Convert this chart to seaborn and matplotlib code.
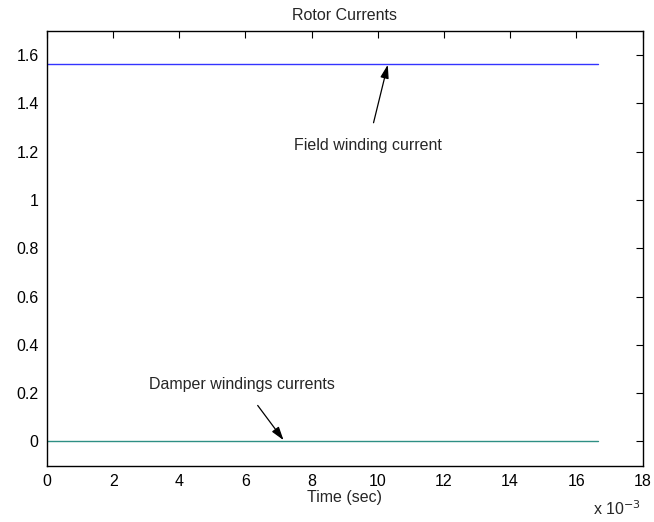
import matplotlib
matplotlib.use("Agg")
import matplotlib.pyplot as plt
import seaborn as sns
import pandas as pd
from matplotlib.ticker import FuncFormatter

# Data (time in seconds)
time_s = [0.0, 0.016667]
field_current = [1.564, 1.564]
damper_current = [0.0, 0.0]

x_ticks_ms = [0, 2, 4, 6, 8, 10, 12, 14, 16, 18]
y_ticks = [0, 0.2, 0.4, 0.6, 0.8, 1.0, 1.2, 1.4, 1.6]

df = pd.DataFrame({"time": time_s + time_s,
                   "current": field_current + damper_current,
                   "series": ["Field"] * len(time_s) + ["Damper"] * len(time_s)})

sns.set_style("white")
plt.rcParams['font.family'] = ['Liberation Sans', 'DejaVu Sans']

fig = plt.figure(figsize=(6.54, 5.22), dpi=100)
W, H = 654, 522
left, right, top, bottom = 47, 642.5, 31, 465.5
ax = fig.add_axes([left / W, 1 - bottom / H, (right - left) / W, (bottom - top) / H])

sns.lineplot(data=df, x="time", y="current", hue="series",
             palette={"Field": "#3333ff", "Damper": "#2e8f84"},
             linewidth=1.0, legend=False, ax=ax, estimator=None)

ax.set_xlim(0, 0.018)
ax.set_ylim(-0.1, 1.7)
ax.set_xticks([t * 1e-3 for t in x_ticks_ms])
ax.xaxis.set_major_formatter(FuncFormatter(lambda v, p: f"{v*1e3:g}"))
ax.set_yticks(y_ticks)
ax.yaxis.set_major_formatter(FuncFormatter(lambda v, p: f"{v:g}"))

FS = 11.5
ax.tick_params(direction="in", length=5, width=0.8, top=True, right=True,
               labelsize=FS, colors="black", pad=6)
for s in ax.spines.values():
    s.set_visible(True)
    s.set_color("black")
    s.set_linewidth(1.0)

ax.set_xlabel("Time (sec)", fontsize=FS, labelpad=1)
ax.set_ylabel("")
ax.set_title("Rotor Currents", fontsize=FS, pad=8)

fig.text(641 / W, 1 - 509 / H, r"x 10$^{-3}$", ha="right", va="center", fontsize=FS)

arrow = dict(arrowstyle="-|>,head_length=0.7,head_width=0.22", color="black", lw=0.9,
             shrinkA=9, shrinkB=0)
ax.annotate("Field winding current", xy=(0.0103, 1.56), xytext=(0.0097, 1.225),
            ha="center", va="center", fontsize=FS, arrowprops=arrow)
ax.annotate("Damper windings currents", xy=(0.00715, 0.005), xytext=(0.0059, 0.235),
            ha="center", va="center", fontsize=FS, arrowprops=arrow)

fig.savefig("out.png", dpi=100)
